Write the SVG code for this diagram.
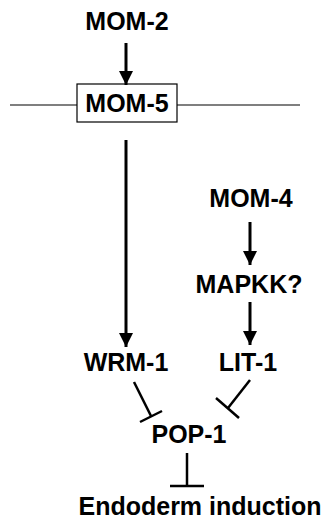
<svg xmlns="http://www.w3.org/2000/svg" width="334" height="519" viewBox="0 0 334 519">
<style>
.t{font-family:"Liberation Sans",Arial,sans-serif;font-weight:bold;font-size:25px;fill:#000;text-anchor:middle}
.a{stroke:#000;stroke-width:3;fill:none}
.i{stroke:#000;stroke-width:2.5;fill:none}
.m{stroke:#000;stroke-width:1.2;fill:none}
</style>
<defs>
<marker id="ah" markerUnits="userSpaceOnUse" markerWidth="14" markerHeight="18" refX="14" refY="7" orient="auto" viewBox="0 0 14 14">
<path d="M0,0 L14,7 L0,14 Z" fill="#000"/>
</marker>
</defs>
<rect width="334" height="519" fill="#fff"/>
<g id="membrane">
<line class="m" x1="10" y1="105" x2="77" y2="105"/>
<line class="m" x1="177" y1="105" x2="300" y2="105"/>
</g>
<g id="mom2"><text class="t" x="127" y="30">MOM-2</text></g>
<g id="mom5">
<rect x="77" y="84" width="100" height="38" fill="#fff" stroke="#000" stroke-width="1.2"/>
<text class="t" x="127" y="112">MOM-5</text>
</g>
<g id="mom4"><text class="t" x="251" y="207">MOM-4</text></g>
<g id="mapkk"><text class="t" x="249" y="293">MAPKK?</text></g>
<g id="wrm1"><text class="t" x="126" y="371">WRM-1</text></g>
<g id="lit1"><text class="t" x="248" y="371">LIT-1</text></g>
<g id="pop1"><text class="t" x="189" y="443">POP-1</text></g>
<g id="endoderm"><text class="t" x="200" y="515">Endoderm induction</text></g>
<g id="connectors">
<line class="a" x1="126" y1="43" x2="126" y2="85" marker-end="url(#ah)"/>
<line class="a" x1="126" y1="140" x2="126" y2="347" marker-end="url(#ah)"/>
<line class="a" x1="250" y1="222" x2="250" y2="265" marker-end="url(#ah)"/>
<line class="a" x1="250" y1="302" x2="250" y2="345" marker-end="url(#ah)"/>
<line class="i" x1="134" y1="382" x2="151" y2="416"/>
<line class="i" x1="140" y1="422" x2="162" y2="411"/>
<line class="i" x1="250" y1="380" x2="228" y2="408"/>
<line class="i" x1="216" y1="398" x2="239" y2="418"/>
<line class="i" x1="187" y1="453" x2="187" y2="486"/>
<line class="i" x1="170" y1="486" x2="204" y2="486"/>
</g>
</svg>
